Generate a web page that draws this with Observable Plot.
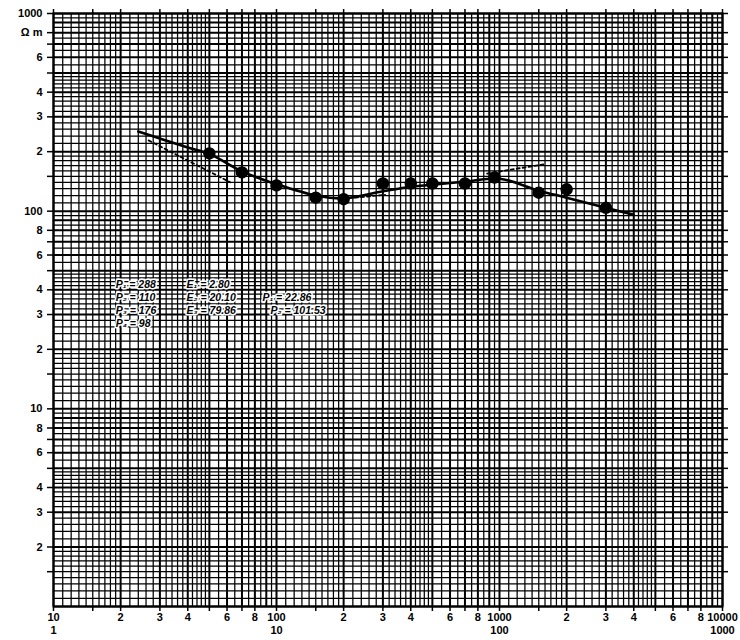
<!DOCTYPE html>
<html>
<head>
<meta charset="utf-8">
<script src="https://cdn.jsdelivr.net/npm/d3@7"></script>
<script src="https://cdn.jsdelivr.net/npm/@observablehq/plot@0.6"></script>
<style>
  html, body { margin: 0; padding: 0; background: #fff; }
</style>
</head>
<body>
<div id="chart"></div>
<script>
// Measured sounding points (AB/2 in m, apparent resistivity in ohm·m)
const abHalf = [50, 70, 100, 150, 200, 300, 400, 500, 700, 950, 1500, 2000, 3000];
const rhoA   = [196, 157, 135, 117, 115, 138, 138, 138, 138, 148, 124, 129, 104];

// Fitted (solid) curve
const curveX = [24, 30, 40, 50, 70, 100, 150, 200, 300, 400, 500, 700, 1000, 1500, 2000, 3000, 4000];
const curveY = [253, 233, 210, 195, 159, 137, 120, 116, 126, 133, 136, 141, 146, 127, 117, 104, 96];

// Auxiliary dashed segments
const dashSeg = [0, 0, 1, 1, 2, 2];
const dashX   = [26.7, 62, 225, 307, 880, 1600];
const dashY   = [228, 140, 117, 121, 155, 173];

// Axis ticks and labels
const xTickVals = [10,15,20,30,40,50,60,70,80,100,150,200,300,400,500,600,700,800,1000,1500,2000,3000,4000,5000,6000,7000,8000,10000];
const xLabelVals = [10,20,30,40,60,80,100,200,300,400,600,800,1000,2000,3000,4000,6000,8000,10000];
const xLabels    = ["10","2","3","4","6","8","100","2","3","4","6","8","1000","2","3","4","6","8","10000"];
const xSecVals = [10, 100, 1000, 10000];
const xSecLabels = ["1", "10", "100", "1000"];

const yTickVals = [1.5,2,3,4,5,6,7,8,10,15,20,30,40,50,60,70,80,100,150,200,300,400,500,600,700,800,1000];
const yLabelVals = [2,3,4,6,8,10,20,30,40,60,80,100,200,300,400,600,800,1000];
const yLabels    = ["2","3","4","6","8","10","2","3","4","6","8","100","2","3","4","6","Ω m","1000"];

// Graph-paper rulings (mantissas within each decade)
const majorMant = [1, 2, 3, 4, 5, 6, 7, 8, 9];
const minorMant = [1.1,1.2,1.3,1.4,1.5,1.6,1.7,1.8,1.9,2.2,2.4,2.6,2.8,3.2,3.4,3.6,3.8,4.2,4.4,4.6,4.8,5.5,6.5,7.5,8.5,9.5];
const decadesX = [10, 100, 1000];
const decadesY = [1, 10, 100];

// Annotation text (layer parameters)
const annoText = ["P₁ = 288", "E₁ = 2.80",
                  "P₂ = 110", "E₂ = 20.10", "P₁ = 22.86",
                  "P₃ = 176", "E₃ = 79.86", "P₂ = 101.53",
                  "P₄ = 98"];
const annoX = [19, 39.5, 19, 39.5, 86.5, 19, 39.5, 94, 19];
const annoY = [42.3, 42.3, 36.4, 36.4, 36.4, 31.3, 31.3, 31.3, 26.9];

// ---- build tables ----
const points = abHalf.map((x, i) => ({x, y: rhoA[i]}));
const curve = curveX.map((x, i) => ({x, y: curveY[i]}));
const dashes = dashX.map((x, i) => ({x, y: dashY[i], s: dashSeg[i]}));
const anno = annoText.map((t, i) => ({t, x: annoX[i], y: annoY[i]}));
const xLab = xLabelVals.map((v, i) => ({v, t: xLabels[i]}));
const xSec = xSecVals.map((v, i) => ({v, t: xSecLabels[i]}));
const yLab = yLabelVals.map((v, i) => ({v, t: yLabels[i]}));

const xMajor = decadesX.flatMap(d => majorMant.map(m => +(m * d).toPrecision(6))).concat([10000]);
const xMinor = decadesX.flatMap(d => minorMant.map(m => +(m * d).toPrecision(6)));
const yMajor = decadesY.flatMap(d => majorMant.map(m => +(m * d).toPrecision(6))).concat([1000]);
const yMinor = decadesY.flatMap(d => minorMant.map(m => +(m * d).toPrecision(6)));

const chart = Plot.plot({
  width: 740,
  height: 640,
  marginLeft: 53,
  marginRight: 18,
  marginTop: 13,
  marginBottom: 34,
  x: {type: "log", domain: [10, 10000], label: null},
  y: {type: "log", domain: [1, 1000], label: null},
  style: {fontFamily: "'Liberation Sans', Arial, sans-serif", fontSize: "11px", fontWeight: "bold", background: "#fff", color: "#000"},
  marks: [
    Plot.ruleX(xMinor, {stroke: "#000", strokeWidth: 1.25}),
    Plot.ruleY(yMinor, {stroke: "#000", strokeWidth: 1.25}),
    Plot.ruleX(xMajor, {stroke: "#000", strokeWidth: 2}),
    Plot.ruleY(yMajor, {stroke: "#000", strokeWidth: 2}),
    Plot.frame({stroke: "#000", strokeWidth: 2}),
    Plot.axisY({ticks: yTickVals, tickSize: 6, strokeWidth: 1.5, tickFormat: () => ""}),
    Plot.axisY({anchor: "right", ticks: yTickVals, tickSize: 5, strokeWidth: 1.5, tickFormat: () => ""}),
    Plot.axisX({ticks: xTickVals, tickSize: 5, strokeWidth: 1.5, tickFormat: () => ""}),
    Plot.axisX({anchor: "top", ticks: xTickVals, tickSize: 5, strokeWidth: 1.5, tickFormat: () => ""}),
    Plot.text(yLab, {y: "v", text: "t", frameAnchor: "left", textAnchor: "end", dx: -11,
      fontSize: 11, fontWeight: "bold"}),
    Plot.text(xLab, {x: "v", text: "t", frameAnchor: "bottom", dy: 14,
      fontSize: 11, fontWeight: "bold"}),
    Plot.text(xSec, {x: "v", text: "t", frameAnchor: "bottom", dy: 27,
      fontSize: 11, fontWeight: "bold"}),
    Plot.line(dashes, {x: "x", y: "y", z: "s", stroke: "#000", strokeWidth: 1.8, strokeDasharray: "3,3"}),
    Plot.line(curve, {x: "x", y: "y", curve: "catmull-rom", stroke: "#000", strokeWidth: 2.6}),
    Plot.dot(points, {x: "x", y: "y", r: 5.5, fill: "#000", stroke: "#000"}),
    Plot.text(anno, {x: "x", y: "y", text: "t", textAnchor: "start", fontSize: 10.5,
      fontWeight: "bold", fontStyle: "italic", fill: "#000", stroke: "#fff", strokeWidth: 3, paintOrder: "stroke"})
  ]
});
document.getElementById("chart").appendChild(chart);
</script>
</body>
</html>
